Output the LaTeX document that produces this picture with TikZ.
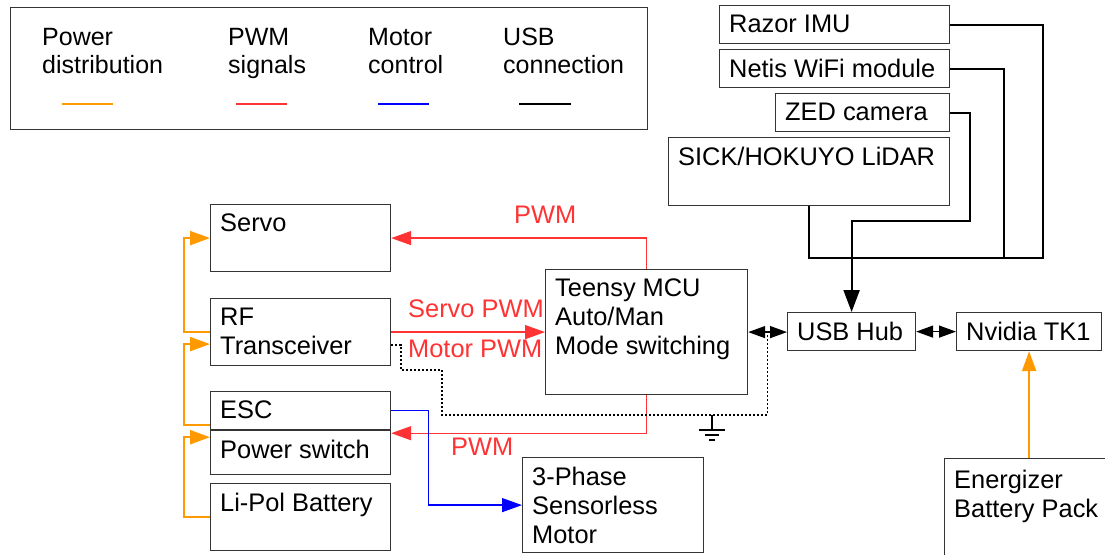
\documentclass[tikz,border=0pt]{standalone}
\usepackage{fontspec}
\setmainfont{Liberation Sans}
\usetikzlibrary{positioning, arrows.meta, calc}
\definecolor{powerline}{RGB}{255,153,0}
\definecolor{pwmline}{RGB}{255,51,51}
\definecolor{motorline}{RGB}{0,0,255}
\definecolor{boxline}{RGB}{52,52,52}

\begin{document}
\begin{tikzpicture}[x=1pt, y=-1pt,
  every node/.style={inner sep=0pt, font=\fontsize{25}{28}\selectfont},
  box/.style={draw=boxline, line width=1.2pt, anchor=north west},
  txt/.style={anchor=north west, inner xsep=10pt, inner ysep=10pt, align=left,
    font=\fontsize{25.4}{29}\selectfont},
  lgd/.style={anchor=north west, align=left},
  sig/.style={anchor=base west, color=pwmline, font=\fontsize{25.4}{29}\selectfont},
  power/.style={powerline, line width=2.2pt, -{Triangle[length=20pt, width=14pt]}},
  pwm/.style={pwmline, line width=1.4pt, -{Triangle[length=20pt, width=14pt]}},
  motor/.style={motorline, line width=1.4pt, -{Triangle[length=20pt, width=14pt]}},
  usb/.style={black, line width=2.2pt},
  link/.style={black, line width=1.4pt,
    {Triangle[length=17pt, width=12pt]}-{Triangle[length=17pt, width=12pt]}},
  gndwire/.style={black, line width=1.3pt, dash pattern=on 2pt off 2pt}]
\useasboundingbox (0,0) rectangle (1105,554);

% legend
\node[box, minimum width=637pt, minimum height=122pt] (legend) at (10,7) {};
\node[lgd] (lgpower) at (42,28) {Power\\distribution};
\node[lgd] (lgpwm) at (228,28) {PWM\\signals};
\node[lgd] (lgmotor) at (368,28) {Motor\\control};
\node[lgd] (lgusb) at (503,28) {USB\\connection};
\draw[power, -] (62,104) -- (113,104);
\draw[pwm, -] (236,104) -- (287,104);
\draw[motor, -] (378,104) -- (429,104);
\draw[usb] (519,104) -- (571,104);

% sensors and computers
\node[box, minimum width=230pt, minimum height=38pt, label={[txt]north west:Razor IMU}] (razor) at (719,5) {};
\node[box, minimum width=230pt, minimum height=38pt, label={[txt]north west:Netis WiFi module}] (netis) at (719,49) {};
\node[box, minimum width=174pt, minimum height=38pt, label={[txt]north west:ZED camera}] (zed) at (775,93) {};
\node[box, minimum width=281pt, minimum height=68pt, label={[txt]north west:SICK/HOKUYO LiDAR}] (lidar) at (668,137) {};
\node[box, minimum width=128pt, minimum height=38pt, label={[txt]north west:USB Hub}] (hub) at (787,312) {};
\node[box, minimum width=145pt, minimum height=38pt, label={[txt]north west:Nvidia TK1}] (tk1) at (956,312) {};
\node[box, minimum width=180pt, minimum height=110pt, label={[txt, inner ysep=12pt]north west:{Energizer\\Battery Pack}}] (energy) at (944,458) {};

% vehicle side
\node[box, minimum width=202pt, minimum height=125pt, label={[txt]north west:{Teensy MCU\\Auto/Man\\Mode switching}}] (teensy) at (545,269) {};
\node[box, minimum width=180pt, minimum height=67pt, label={[txt]north west:Servo}] (servo) at (210,204) {};
\node[box, minimum width=180pt, minimum height=67pt, label={[txt]north west:{RF\\Transceiver}}] (rf) at (210,298) {};
\node[box, minimum width=180pt, minimum height=38pt, label={[txt]north west:ESC}] (esc) at (210,391) {};
\node[box, below=0pt of esc, minimum width=180pt, minimum height=44pt, label={[txt]north west:Power switch}] (pswitch) {};
\node[box, minimum width=180pt, minimum height=67pt, label={[txt]north west:Li-Pol Battery}] (lipol) at (210,483) {};
\node[box, minimum width=181pt, minimum height=95pt, label={[txt]north west:{3-Phase\\Sensorless\\Motor}}] (motor) at (522,457) {};

\node[sig] (pwmtop) at (514,223) {PWM};
\node[sig] (servopwm) at (408,317) {Servo PWM};
\node[sig] (motorpwm) at (408,357) {Motor PWM};
\node[sig] (pwmlow) at (451,455) {PWM};

% usb
\draw[usb] (razor.east) -| (1043,258) -| (lidar.south);
\draw[usb] (netis.east) -| (1004,258);
\draw[usb, -{Triangle[length=22pt, width=16pt]}] (zed.east) -| (970,221) -| (hub.north);
\draw[link] (teensy.east) -- (teensy.east -| hub.west);
\draw[link] (hub.east) -- (tk1.west);

% pwm and motor
\draw[pwm] (teensy.north) |- (servo.east);
\draw[pwm] (rf.east) -- (teensy.west);
\draw[pwm] (teensy.south) |- ([yshift=-3pt]pswitch.north east);
\draw[motor] (esc.east) -- ++(37,0) |- (motor.west);

% power
\draw[power] (rf.west) -- ++(-26,0) |- (servo.west);
\draw[power] ([yshift=-14pt]esc.west) -- ++(-26,0) |- ([yshift=-12pt]rf.west);
\draw[power] (lipol.west) -- ++(-26,0) |- ([yshift=-7pt]pswitch.north west);
\draw[power] (energy.north -| tk1.south) -- (tk1.south);

% ground
\coordinate (tap) at ($(teensy.east)!0.5!(teensy.east -| hub.west)$);
\coordinate (gnd) at (712,415);
\draw[gndwire] ([yshift=-13pt]rf.east) -| (401,370) -| (442,415) -| (tap);
\draw[black, line width=1.3pt] (gnd) -- ++(0,15) ++(-13,0) -- ++(26,0)
  ++(-20,5) -- ++(14,0) ++(-10,5) -- ++(6,0);
\end{tikzpicture}
\end{document}
